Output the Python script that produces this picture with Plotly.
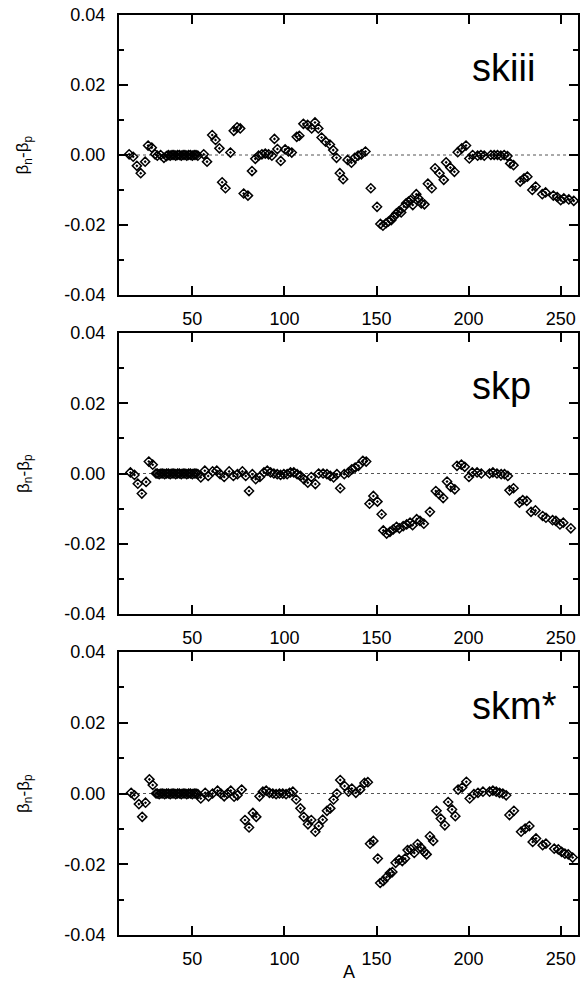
import plotly.graph_objects as go

# ---------------- data ----------------
A_skiii = [15.7, 17.9, 19.9, 22.0, 24.4, 26.0, 28.0, 29.8, 31.0, 32.8, 34.6,
           36, 37, 38, 39, 40, 41, 42, 43, 44, 45, 46, 47, 48, 49, 50, 51, 52, 53,
           56.2, 58.0, 60.8, 62.6, 64.7, 66.2, 68.0, 70.7, 72.5, 74.3, 76.0,
           77.9, 80.2, 82.4, 84.2, 86.0, 87.8, 89.6, 91.4, 93.2, 94.6,
           96.2, 98.0, 100.4, 102.2, 104.0, 106.7, 108.1, 110.3, 112.6, 114.8,
           116.6, 118.4, 120.2, 122.4, 124.7, 126.5, 128.3, 130.1, 131.9, 134.3,
           136.4, 138.2, 140.0, 141.8, 144.0, 146.9, 150.3, 152.1, 153.5, 155.2,
           156.5, 158.0, 159.4, 160.8, 162.0, 163.4, 164.9, 166.1, 167.4, 168.5,
           169.7, 171.6, 172.8, 174.3, 176.0, 177.9, 180.0, 181.8, 184.2, 186.5,
           187.8, 190.1, 192.3, 194.1, 196.3, 198.6, 200.4, 202.2, 204.9, 206.7,
           208.5, 212.1, 213.9, 215.7, 217.5, 219.3, 221.1, 222.6, 224.4, 228.0,
           230.1, 231.9, 234.6, 236.4, 240.0, 241.8, 246.0, 248.1, 250.0, 251.7,
           254.4, 257.1]
dB_skiii = [0.0002, -0.0005, -0.0031, -0.0052, -0.0019, 0.0027, 0.0021, 0.0002, -0.0002, 0.0, -0.0008,
            -0.0003, 0.0, -0.0002, 0.0, 0.0, -0.0002, 0.0, 0.0, -0.0002, 0.0, 0.0, -0.0002, 0.0, 0.0, -0.0002, 0.0, 0.0, -0.0002,
            0.0002, -0.0019, 0.0057, 0.0043, 0.0019, -0.0078, -0.0095, 0.0007, 0.0069, 0.0079, 0.0076,
            -0.0110, -0.0116, -0.0046, -0.0011, -0.0002, 0.0002, 0.0004, 0.0002, -0.0002, 0.0046,
            0.0017, -0.0017, 0.0016, 0.0010, 0.0007, 0.0052, 0.0055, 0.0089, 0.0086, 0.0076,
            0.0093, 0.0076, 0.0050, 0.0038, 0.0030, 0.0014, -0.0008, -0.0052, -0.0069, -0.0014,
            -0.0022, -0.0008, -0.0002, 0.0002, 0.0010, -0.0095, -0.0148, -0.0197, -0.0202, -0.0195,
            -0.0190, -0.0186, -0.0176, -0.0167, -0.0162, -0.0164, -0.0148, -0.0138, -0.0133, -0.0129,
            -0.0143, -0.0112, -0.0124, -0.0138, -0.0141, -0.0082, -0.0095, -0.0038, -0.0052, -0.0071,
            -0.0021, -0.0036, -0.0048, 0.0008, 0.0019, 0.0027, -0.0010, 0.0, -0.0002, 0.0,
            -0.0002, 0.0, 0.0, 0.0, -0.0002, 0.0, -0.0003, -0.0024, -0.0029, -0.0076,
            -0.0067, -0.0062, -0.0100, -0.0090, -0.0112, -0.0107, -0.0116, -0.0120, -0.0129, -0.0124,
            -0.0127, -0.0131]

A_skp = [16.4, 18.6, 20.4, 22.6, 24.9, 26.4, 28.5, 30.3,
         31, 32, 33, 34, 35, 36, 37, 38, 39, 40, 41, 42, 43, 44, 45, 46, 47, 48, 49, 50, 51, 52, 53,
         54.6, 56.8, 58.6, 61.0, 63.3, 65.1, 67.3, 70.0, 72.3, 74.5,
         77.2, 79.0, 80.8, 82.6, 84.4, 86.7, 88.9, 90.7, 92.5, 94.3,
         96.1, 97.9, 99.7, 101.5, 103.3, 105.1, 106.9, 108.7, 110.5, 112.7,
         114.6, 116.8, 118.6, 121.0, 123.1, 124.9, 126.7, 128.5, 130.3, 132.5,
         134.8, 136.6, 138.4, 140.2, 142.6, 144.4, 146.2, 148.3, 150.5, 152.8,
         153.7, 155.5, 157.3, 159.1, 160.9, 162.4, 164.5, 166.4, 168.2, 169.6,
         171.8, 173.6, 175.7, 179.0, 182.2, 184.0, 186.2, 188.3, 190.3, 192.5,
         193.7, 196.1, 197.9, 200.2, 202.0, 204.6, 206.9, 211.4, 213.2, 215.4,
         217.7, 219.5, 221.3, 222.2, 224.4, 227.6, 229.4, 231.6, 233.9, 236.3,
         240.2, 242.0, 245.6, 247.4, 249.6, 251.4, 255.5]
dB_skp = [0.0003, -0.0004, -0.0029, -0.0057, -0.0024, 0.0034, 0.0025, 0.0,
          0.0, -0.0002, 0.0, 0.0, -0.0002, 0.0, 0.0, -0.0002, 0.0, 0.0, -0.0002, 0.0, 0.0, -0.0002, 0.0, 0.0, -0.0002, 0.0, 0.0, -0.0002, 0.0, 0.0, -0.0002,
          -0.0011, 0.0008, -0.0007, 0.0006, 0.0008, -0.0002, -0.0010, 0.0006, -0.0007, -0.0002,
          0.0006, -0.0007, -0.0050, -0.0002, -0.0016, -0.0010, 0.0003, 0.0008, 0.0003, 0.0,
          -0.0002, -0.0004, -0.0002, -0.0002, 0.0003, 0.0003, -0.0002, -0.0007, -0.0016, -0.0026,
          -0.0010, -0.0030, 0.0, 0.0, -0.0002, -0.0007, -0.0011, -0.0002, -0.0042, -0.0002,
          0.0003, 0.0012, 0.0017, 0.0022, 0.0036, 0.0034, -0.0086, -0.0064, -0.0080, -0.0116,
          -0.0162, -0.0171, -0.0166, -0.0159, -0.0152, -0.0156, -0.0150, -0.0145, -0.0140, -0.0147,
          -0.0130, -0.0135, -0.0143, -0.0109, -0.0050, -0.0059, -0.0070, -0.0023, -0.0038, -0.0045,
          0.0022, 0.0025, 0.0019, -0.0010, 0.0003, 0.0003, 0.0, 0.0, 0.0003, 0.0,
          -0.0002, -0.0002, -0.0007, -0.0048, -0.0042, -0.0083, -0.0076, -0.0078, -0.0109, -0.0105,
          -0.0121, -0.0126, -0.0133, -0.0135, -0.0145, -0.0140, -0.0156]

A_skm = [16.8, 18.6, 21.0, 22.8, 24.6, 26.7, 28.5, 30.3,
         31, 32, 33, 34, 35, 36, 37, 38, 39, 40, 41, 42, 43, 44, 45, 46, 47, 48, 49, 50, 51, 52, 53,
         54.6, 57.0, 58.8, 61.0, 63.7, 65.5, 67.3, 69.1, 70.9, 72.7,
         74.5, 76.8, 78.6, 80.8, 82.9, 84.7, 86.5, 88.3, 90.1, 91.9,
         93.7, 95.5, 97.3, 99.1, 100.9, 102.8, 104.6, 106.4, 108.7, 110.5,
         112.8, 114.6, 116.8, 118.6, 120.8, 123.1, 124.9, 126.7, 128.5, 130.3,
         132.7, 134.8, 136.6, 138.8, 141.1, 143.5, 145.3, 146.5, 148.3, 150.7,
         152.0, 153.7, 155.5, 157.3, 158.6, 160.4, 162.2, 164.0, 165.5, 166.9,
         168.7, 170.5, 172.3, 174.1, 175.9, 177.2, 179.0, 180.8, 182.6, 184.9,
         187.1, 188.9, 191.0, 192.8, 194.3, 196.5, 198.8, 200.6, 202.9, 205.1,
         207.8, 211.4, 213.2, 215.0, 216.8, 218.6, 220.4, 222.2, 224.6, 228.5,
         230.7, 233.0, 234.8, 236.6, 240.2, 242.0, 246.5, 248.7, 250.5, 252.3,
         254.1, 256.5]
dB_skm = [0.0002, -0.0005, -0.0030, -0.0066, -0.0026, 0.0040, 0.0024, 0.0,
          0.0, -0.0002, 0.0, 0.0, -0.0002, 0.0, 0.0, -0.0002, 0.0, 0.0, -0.0002, 0.0, 0.0, -0.0002, 0.0, 0.0, -0.0002, 0.0, 0.0, -0.0002, 0.0, 0.0, -0.0002,
          -0.0014, 0.0002, -0.0008, 0.0, 0.0008, 0.0, -0.0008, 0.0, 0.0008, -0.0009,
          -0.0005, 0.0011, -0.0075, -0.0096, -0.0055, -0.0066, -0.0008, 0.0005, 0.0008, 0.0002,
          0.0, -0.0002, 0.0, 0.0, -0.0002, 0.0002, 0.0005, -0.0017, -0.0042, -0.0066,
          -0.0087, -0.0075, -0.0108, -0.0092, -0.0074, -0.0049, -0.0042, -0.0017, 0.0, 0.0038,
          0.0021, 0.0005, 0.0014, 0.0002, 0.0011, 0.0030, 0.0032, -0.0142, -0.0134, -0.0184,
          -0.0253, -0.0247, -0.0236, -0.0225, -0.0222, -0.0196, -0.0187, -0.0191, -0.0184, -0.0160,
          -0.0158, -0.0168, -0.0143, -0.0153, -0.0165, -0.0172, -0.0121, -0.0134, -0.0049, -0.0071,
          -0.0090, -0.0024, -0.0045, -0.0064, 0.0011, 0.0017, 0.0033, -0.0014, -0.0002, 0.0002,
          0.0005, 0.0005, 0.0008, 0.0005, 0.0002, 0.0, -0.0005, -0.0061, -0.0049, -0.0108,
          -0.0099, -0.0092, -0.0137, -0.0127, -0.0146, -0.0142, -0.0156, -0.0158, -0.0165, -0.0170,
          -0.0172, -0.0181]

panel_names = ["skiii", "skp", "skm*"]
x_ticks = [50, 100, 150, 200, 250]
y_ticks = [-0.04, -0.02, 0.0, 0.02, 0.04]
y_ticktext = ["-0.04", "-0.02", "0.00", "0.02", "0.04"]
y_minor = [-0.03, -0.01, 0.01, 0.03]

# ---------------- figure ----------------
FONT = "Liberation Sans, Arial, Helvetica, sans-serif"
W, H = 581, 983
ML, MR, MT, MB = 119, 1, 15, 48
PH = H - MT - MB

def ydom(top_px, bot_px):
    return [(H - MB - bot_px) / PH, (H - MB - top_px) / PH]

domains = [ydom(15, 295), ydom(333, 614), ydom(652, 935)]

series = [(A_skiii, dB_skiii), (A_skp, dB_skp), (A_skm, dB_skm)]

fig = go.Figure()
layout = dict(
    width=W, height=H,
    margin=dict(l=ML, r=MR, t=MT, b=MB),
    paper_bgcolor="white", plot_bgcolor="white",
    showlegend=False,
    font=dict(family=FONT, color="black"),
)

shapes = []
annotations = []
for i, ((ax, ay), name, dom) in enumerate(zip(series, panel_names, domains)):
    sfx = "" if i == 0 else str(i + 1)
    fig.add_trace(go.Scatter(
        x=ax, y=ay, mode="markers",
        xaxis="x" + sfx, yaxis="y" + sfx,
        marker=dict(symbol="diamond-open-dot", size=7, color="black",
                    line=dict(color="black", width=1.5)),
        cliponaxis=False,
    ))
    layout["xaxis" + sfx] = dict(
        domain=[0, 1], anchor="y" + sfx, range=[10.2, 259.4],
        tickvals=x_ticks, ticks="inside", ticklen=9, tickwidth=1.5, tickcolor="black",
        showline=True, linecolor="black", linewidth=2, mirror="allticks",
        showgrid=False, zeroline=False,
        tickfont=dict(size=18, family=FONT, color="black"),
        ticklabelstandoff=6,
    )
    layout["yaxis" + sfx] = dict(
        domain=dom, anchor="x" + sfx, range=[-0.04, 0.04],
        tickvals=y_ticks, ticktext=y_ticktext,
        ticks="inside", ticklen=9, tickwidth=1.5, tickcolor="black",
        minor=dict(tickvals=y_minor, ticks="inside", ticklen=5, tickwidth=1.5, tickcolor="black"),
        showline=True, linecolor="black", linewidth=2, mirror="allticks",
        showgrid=False, zeroline=False,
        tickfont=dict(size=18, family=FONT, color="black"),
        ticklabelstandoff=8,
    )
    shapes.append(dict(type="line", xref="x" + sfx + " domain", yref="y" + sfx,
                       x0=0, x1=1, y0=0, y1=0,
                       line=dict(color="#555555", width=1, dash="dot"), layer="below"))
    annotations.append(dict(text=name, xref="x" + sfx, yref="y" + sfx,
                            x=201, y=0.0248, xanchor="left", yanchor="middle",
                            showarrow=False, font=dict(size=38, family=FONT, color="black")))
    ymid = (dom[0] + dom[1]) / 2
    annotations.append(dict(text="β<sub>n</sub>-β<sub>p</sub>", xref="paper", yref="paper",
                            x=(24 - ML) / (W - ML - MR), y=ymid, xanchor="center", yanchor="middle",
                            textangle=-90, showarrow=False,
                            font=dict(size=17, family=FONT, color="black")))

annotations.append(dict(text="A", xref="paper", yref="paper",
                        x=(350 - ML) / (W - ML - MR), y=(H - MB - 972) / PH,
                        xanchor="center", yanchor="middle", showarrow=False,
                        font=dict(size=18, family=FONT, color="black")))

layout["shapes"] = shapes
layout["annotations"] = annotations
fig.update_layout(**layout)

fig.write_html("out.html")
